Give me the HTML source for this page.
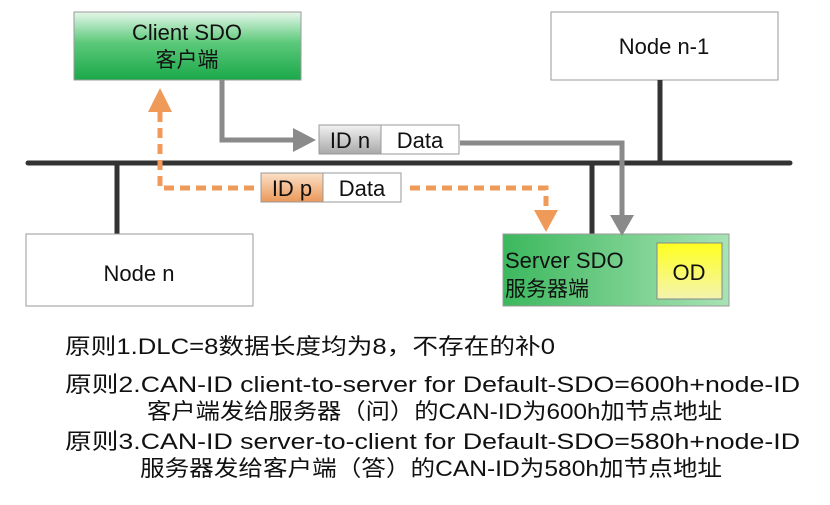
<!DOCTYPE html>
<html><head><meta charset="utf-8"><style>
html,body{margin:0;padding:0;background:#fff;}
svg{display:block;}
text{font-family:"Liberation Sans","Noto Sans CJK SC",sans-serif;}
</style></head><body>
<svg width="830" height="505" viewBox="0 0 830 505" xmlns="http://www.w3.org/2000/svg">
<defs>
<linearGradient id="g" x1="0" y1="0" x2="0" y2="1"><stop offset="0" stop-color="#e6f7ea"/><stop offset="0.45" stop-color="#5cc97a"/><stop offset="1" stop-color="#1aa84a"/></linearGradient>
<linearGradient id="g2" x1="0" y1="0" x2="1" y2="0"><stop offset="0" stop-color="#3cb85e"/><stop offset="1" stop-color="#a8e3b4"/></linearGradient>
<linearGradient id="gy" x1="0" y1="0" x2="0" y2="1"><stop offset="0" stop-color="#ffff20"/><stop offset="1" stop-color="#f4f4b0"/></linearGradient>
<linearGradient id="gg" x1="0" y1="0" x2="0" y2="1"><stop offset="0" stop-color="#f2f2f2"/><stop offset="1" stop-color="#a8a8a8"/></linearGradient>
<linearGradient id="go" x1="0" y1="0" x2="0" y2="1"><stop offset="0" stop-color="#fbe0c8"/><stop offset="1" stop-color="#eb9858"/></linearGradient>
</defs>
<line x1="28" y1="163" x2="790" y2="163" stroke="#333" stroke-width="5" stroke-linecap="round"/>
<line x1="117" y1="163" x2="117" y2="234" stroke="#333" stroke-width="5"/>
<line x1="592" y1="163" x2="592" y2="234" stroke="#333" stroke-width="5"/>
<rect x="74" y="12" width="227" height="68" fill="url(#g)" stroke="#9a9a9a"/>
<text x="187" y="40" font-size="22" text-anchor="middle" fill="#111">Client SDO</text>
<text x="187" y="67" font-size="21" text-anchor="middle" fill="#111">客户端</text>
<rect x="551" y="12" width="227" height="68" fill="#fff" stroke="#9a9a9a"/>
<text x="664" y="54" font-size="22" text-anchor="middle" fill="#111">Node n-1</text>
<line x1="660" y1="80" x2="660" y2="163" stroke="#333" stroke-width="5"/>
<rect x="26" y="234" width="227" height="72" fill="#fff" stroke="#9a9a9a"/>
<text x="139" y="281" font-size="22" text-anchor="middle" fill="#111">Node n</text>
<rect x="503" y="234" width="226" height="72" fill="url(#g2)" stroke="#9a9a9a"/>
<text x="505" y="268" font-size="22" fill="#111">Server SDO</text>
<text x="505" y="296" font-size="21" fill="#111">服务器端</text>
<rect x="657" y="243" width="65" height="56" fill="url(#gy)" stroke="#888"/>
<text x="689" y="280" font-size="22" text-anchor="middle" fill="#111">OD</text>
<polyline points="222,80 222,140 300,140" fill="none" stroke="#8a8a8a" stroke-width="5"/>
<polygon points="293,128 316,140 293,152" fill="#8a8a8a"/>
<polyline points="460,143 622,143 622,218" fill="none" stroke="#8a8a8a" stroke-width="5"/>
<polygon points="610,215 622,236 634,215" fill="#8a8a8a"/>
<rect x="319" y="125" width="62" height="29" fill="url(#gg)" stroke="#999"/>
<rect x="381" y="125" width="78" height="29" fill="#fff" stroke="#999"/>
<text x="350" y="148" font-size="22" text-anchor="middle" fill="#111">ID n</text>
<text x="420" y="148" font-size="22" text-anchor="middle" fill="#111">Data</text>
<polyline points="160,112 160,188 258,188" fill="none" stroke="#ef9a58" stroke-width="5" stroke-dasharray="10,6"/>
<polygon points="148,112 160,88 172,112" fill="#ef9a58"/>
<polyline points="410,188 546,188 546,212" fill="none" stroke="#ef9a58" stroke-width="5" stroke-dasharray="10,6"/>
<polygon points="534,210 546,232 558,210" fill="#ef9a58"/>
<rect x="261" y="173" width="62" height="29" fill="url(#go)" stroke="#999"/>
<rect x="323" y="173" width="78" height="29" fill="#fff" stroke="#999"/>
<text x="292" y="196" font-size="22" text-anchor="middle" fill="#111">ID p</text>
<text x="362" y="196" font-size="22" text-anchor="middle" fill="#111">Data</text>
<g font-size="22" fill="#111">
<text x="65" y="354" textLength="490" lengthAdjust="spacingAndGlyphs">原则1.DLC=8数据长度均为8，不存在的补0</text>
<text x="65" y="392" textLength="735" lengthAdjust="spacingAndGlyphs">原则2.CAN-ID client-to-server for Default-SDO=600h+node-ID</text>
<text x="147" y="419" textLength="575" lengthAdjust="spacingAndGlyphs">客户端发给服务器（问）的CAN-ID为600h加节点地址</text>
<text x="65" y="449" textLength="735" lengthAdjust="spacingAndGlyphs">原则3.CAN-ID server-to-client for Default-SDO=580h+node-ID</text>
<text x="140" y="476" textLength="582" lengthAdjust="spacingAndGlyphs">服务器发给客户端（答）的CAN-ID为580h加节点地址</text>
</g>
</svg>
</body></html>
